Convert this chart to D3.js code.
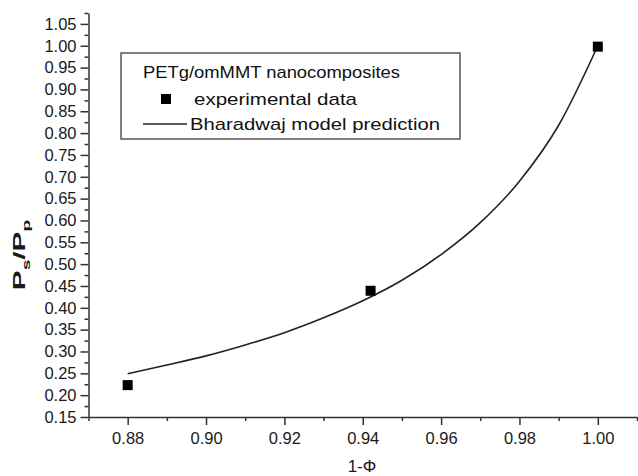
<!DOCTYPE html>
<html lang="en">
<head>
<meta charset="utf-8">
<style>
    body { margin: 0; background: #fff; }
    svg { display: block; font-family: "Liberation Sans", Arial, sans-serif; }
    .axis path, .axis line { stroke: #333; stroke-width: 1.5; }
    .axis text { font-size: 16.5px; fill: #1a1a1a; }
</style>
</head>
<body>
<svg id="mainSVG" width="638" height="476"></svg>
<script src="https://cdn.jsdelivr.net/npm/d3@7"></script>
<script>

    // experimental points
    var expX = [0.88, 0.942, 1.00];
    var expY = [0.223, 0.439, 0.998];

    // model curve
    var modelX = [0.88, 0.89, 0.90, 0.91, 0.92, 0.93, 0.94, 0.95, 0.96, 0.97, 0.98, 0.99, 1.00];
    var modelY = [0.249, 0.269, 0.290, 0.315, 0.343, 0.377, 0.416, 0.463, 0.522, 0.595, 0.690, 0.818, 1.00];

    var xTicks = [0.88, 0.90, 0.92, 0.94, 0.96, 0.98, 1.00];
    var xMinor = [0.87, 0.89, 0.91, 0.93, 0.95, 0.97, 0.99, 1.01];
    var yTicks = [0.15, 0.20, 0.25, 0.30, 0.35, 0.40, 0.45, 0.50, 0.55, 0.60, 0.65, 0.70, 0.75, 0.80, 0.85, 0.90, 0.95, 1.00, 1.05];
    var yMinor = [0.175, 0.225, 0.275, 0.325, 0.375, 0.425, 0.475, 0.525, 0.575, 0.625, 0.675, 0.725, 0.775, 0.825, 0.875, 0.925, 0.975, 1.025, 1.075];

    var legendTitle = "PETg/omMMT nanocomposites";
    var legendLabels = ["experimental data", "Bharadwaj model prediction"];

    var svg = d3.select("svg");

    var x = d3.scaleLinear().domain([0.87, 1.01]).range([88.5, 637]);
    var y = d3.scaleLinear().domain([0.15, 1.075]).range([417, 13]);

    // minor ticks first, then major axis on top
    svg.append("g")
        .attr("class", "axis")
        .attr("transform", "translate(0,417)")
        .call(d3.axisBottom(x).tickValues(xMinor).tickSize(4).tickFormat(""))
        .select(".domain").remove();

    svg.append("g")
        .attr("class", "axis")
        .attr("transform", "translate(88.5,0)")
        .call(d3.axisLeft(y).tickValues(yMinor).tickSize(4).tickFormat(""))
        .select(".domain").remove();

    svg.append("g")
        .attr("class", "axis")
        .attr("transform", "translate(0,417)")
        .call(d3.axisBottom(x).tickValues(xTicks).tickSize(8).tickSizeOuter(0).tickPadding(7.5)
            .tickFormat(d3.format(".2f")));

    svg.append("g")
        .attr("class", "axis")
        .attr("transform", "translate(88.5,0)")
        .call(d3.axisLeft(y).tickValues(yTicks).tickSize(8).tickSizeOuter(0).tickPadding(4)
            .tickFormat(d3.format(".2f")));

    // axis titles
    svg.append("text")
        .attr("x", 362)
        .attr("y", 472)
        .attr("text-anchor", "middle")
        .attr("font-size", 17)
        .attr("fill", "#1a1a1a")
        .text("1-\u03A6");

    // the y title is drawn stretched along its length, as in the picture
    var yt = svg.append("text")
        .attr("transform", "translate(25,255) rotate(-90) scale(1.75,1)")
        .attr("text-anchor", "middle")
        .attr("font-size", 17)
        .attr("font-weight", "bold")
        .attr("fill", "#1a1a1a");
    yt.append("tspan").text("P");
    yt.append("tspan").attr("font-size", 11).attr("dy", 5).text("s");
    yt.append("tspan").attr("dy", -5).text("/P");
    yt.append("tspan").attr("font-size", 11).attr("dy", 5).text("p");

    // model line
    var line = d3.line()
        .x(function (d, i) { return x(modelX[i]); })
        .y(function (d, i) { return y(modelY[i]); })
        .curve(d3.curveMonotoneX);

    svg.append("path")
        .datum(modelY)
        .attr("d", line)
        .attr("fill", "none")
        .attr("stroke", "#222")
        .attr("stroke-width", 1.6);

    // experimental squares
    svg.append("g")
        .selectAll("rect")
        .data(expY)
        .enter().append("rect")
        .attr("x", function (d, i) { return x(expX[i]) - 5; })
        .attr("y", function (d) { return y(d) - 5; })
        .attr("width", 10)
        .attr("height", 10)
        .attr("fill", "#000");

    // legend
    var lg = svg.append("g").attr("class", "legend");
    lg.append("rect")
        .attr("x", 121).attr("y", 53)
        .attr("width", 339).attr("height", 86)
        .attr("fill", "#fff")
        .attr("stroke", "#555")
        .attr("stroke-width", 1.5);

    lg.append("text")
        .attr("x", 143).attr("y", 78)
        .attr("font-size", 17).attr("fill", "#111")
        .attr("textLength", 257).attr("lengthAdjust", "spacingAndGlyphs")
        .text(legendTitle);

    lg.append("rect")
        .attr("x", 161).attr("y", 94)
        .attr("width", 10).attr("height", 10)
        .attr("fill", "#000");
    lg.append("text")
        .attr("x", 194).attr("y", 105)
        .attr("font-size", 17).attr("fill", "#111")
        .attr("textLength", 163).attr("lengthAdjust", "spacingAndGlyphs")
        .text(legendLabels[0]);

    lg.append("line")
        .attr("x1", 143).attr("x2", 187)
        .attr("y1", 124).attr("y2", 124)
        .attr("stroke", "#222").attr("stroke-width", 1.3);
    lg.append("text")
        .attr("x", 190).attr("y", 130)
        .attr("font-size", 17).attr("fill", "#111")
        .attr("textLength", 250).attr("lengthAdjust", "spacingAndGlyphs")
        .text(legendLabels[1]);

</script>
</body>
</html>
